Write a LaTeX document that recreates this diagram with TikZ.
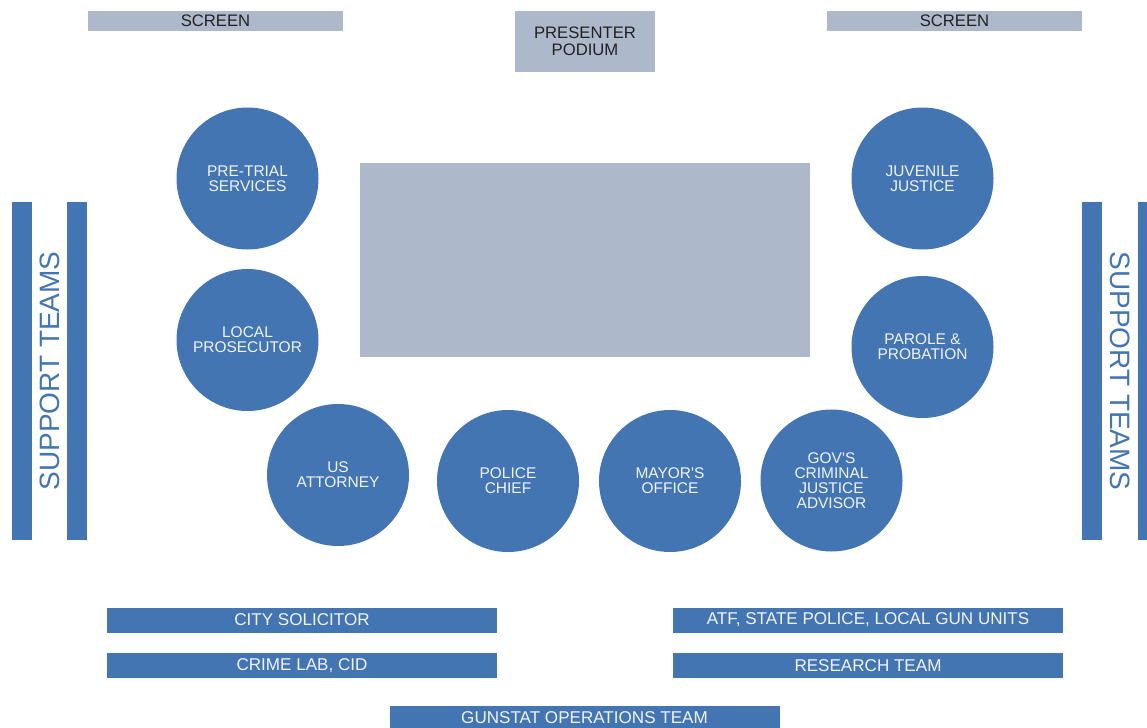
\documentclass[tikz,border=0pt]{standalone}
\usepackage{fontspec}
\setmainfont{Liberation Sans}
\definecolor{seatblue}{RGB}{67,117,178}
\definecolor{roomgray}{RGB}{173,185,202}
\definecolor{darktext}{RGB}{34,34,34}
\definecolor{lighttext}{RGB}{240,244,250}
\begin{document}
\begin{tikzpicture}[x=0.75pt,y=-0.75pt,
  graybox/.style={fill=roomgray,draw=none,inner sep=0pt,text=darktext,align=center,
    font=\fontsize{12.5}{13}\selectfont},
  bluebar/.style={fill=seatblue,draw=none,inner sep=0pt,text=lighttext,align=center,
    font=\fontsize{12.8}{13}\selectfont},
  seat/.style={circle,fill=seatblue,draw=none,inner sep=0pt,minimum size=106.5pt,
    text=lighttext,align=center,font=\fontsize{11.6}{11.3}\selectfont},
  sidelabel/.style={text=seatblue,inner sep=0pt,font=\fontsize{21}{21}\selectfont}]
\useasboundingbox (0,0) rectangle (1147,728);
% top
\node[graybox,minimum width=191.25pt,minimum height=15pt] (scrL) at (215.5,21) {SCREEN};
\node[graybox,minimum width=191.25pt,minimum height=15pt] (scrR) at (954.5,21) {SCREEN};
\node[graybox,minimum width=105pt,minimum height=45.75pt] (podium) at (585,41.5) {PRESENTER\\PODIUM};
% table
\node[fill=roomgray,draw=none,inner sep=0pt,minimum width=337.5pt,minimum height=145.5pt] (table) at (585,260) {};
% seats
\node[seat] (pretrial) at (247.5,178.5) {PRE-TRIAL\\SERVICES};
\node[seat] (localpros) at (247.5,340) {LOCAL\\PROSECUTOR};
\node[seat] (usatty) at (338,475) {US\\ATTORNEY};
\node[seat] (police) at (508,481) {POLICE\\CHIEF};
\node[seat] (mayor) at (670,481) {MAYOR\textquotesingle S\\OFFICE};
\node[seat] (gov) at (831.5,480.5) {GOV\textquotesingle S\\CRIMINAL\\JUSTICE\\ADVISOR};
\node[seat] (juvenile) at (922.5,178.5) {JUVENILE\\JUSTICE};
\node[seat] (parole) at (922.5,347) {PAROLE \&\\PROBATION};
% side bars
\node[fill=seatblue,inner sep=0pt,minimum width=15pt,minimum height=253.5pt] (lbar1) at (22,371) {};
\node[fill=seatblue,inner sep=0pt,minimum width=15pt,minimum height=253.5pt] (lbar2) at (77,371) {};
\node[fill=seatblue,inner sep=0pt,minimum width=15pt,minimum height=253.5pt] (rbar1) at (1092,371) {};
\node[fill=seatblue,inner sep=0pt,minimum width=15pt,minimum height=253.5pt] (rbar2) at (1148,371) {};
\node[sidelabel,rotate=90] (lsupport) at (50,371) {SUPPORT TEAMS};
\node[sidelabel,rotate=-90] (rsupport) at (1120,371) {SUPPORT TEAMS};
% bottom bars
\node[bluebar,minimum width=292.5pt,minimum height=18.75pt] (city) at (302,620) {CITY SOLICITOR};
\node[bluebar,minimum width=292.5pt,minimum height=18.75pt] (crime) at (302,665.5) {CRIME LAB, CID};
\node[bluebar,minimum width=292.5pt,minimum height=18.75pt] (atf) at (868,620) {ATF, STATE POLICE, LOCAL GUN UNITS};
\node[bluebar,minimum width=292.5pt,minimum height=18.75pt] (research) at (868,665.5) {RESEARCH TEAM};
\node[bluebar,minimum width=292.5pt,minimum height=18.75pt] (gunstat) at (584.5,718) {GUNSTAT OPERATIONS TEAM};
\end{tikzpicture}
\end{document}
